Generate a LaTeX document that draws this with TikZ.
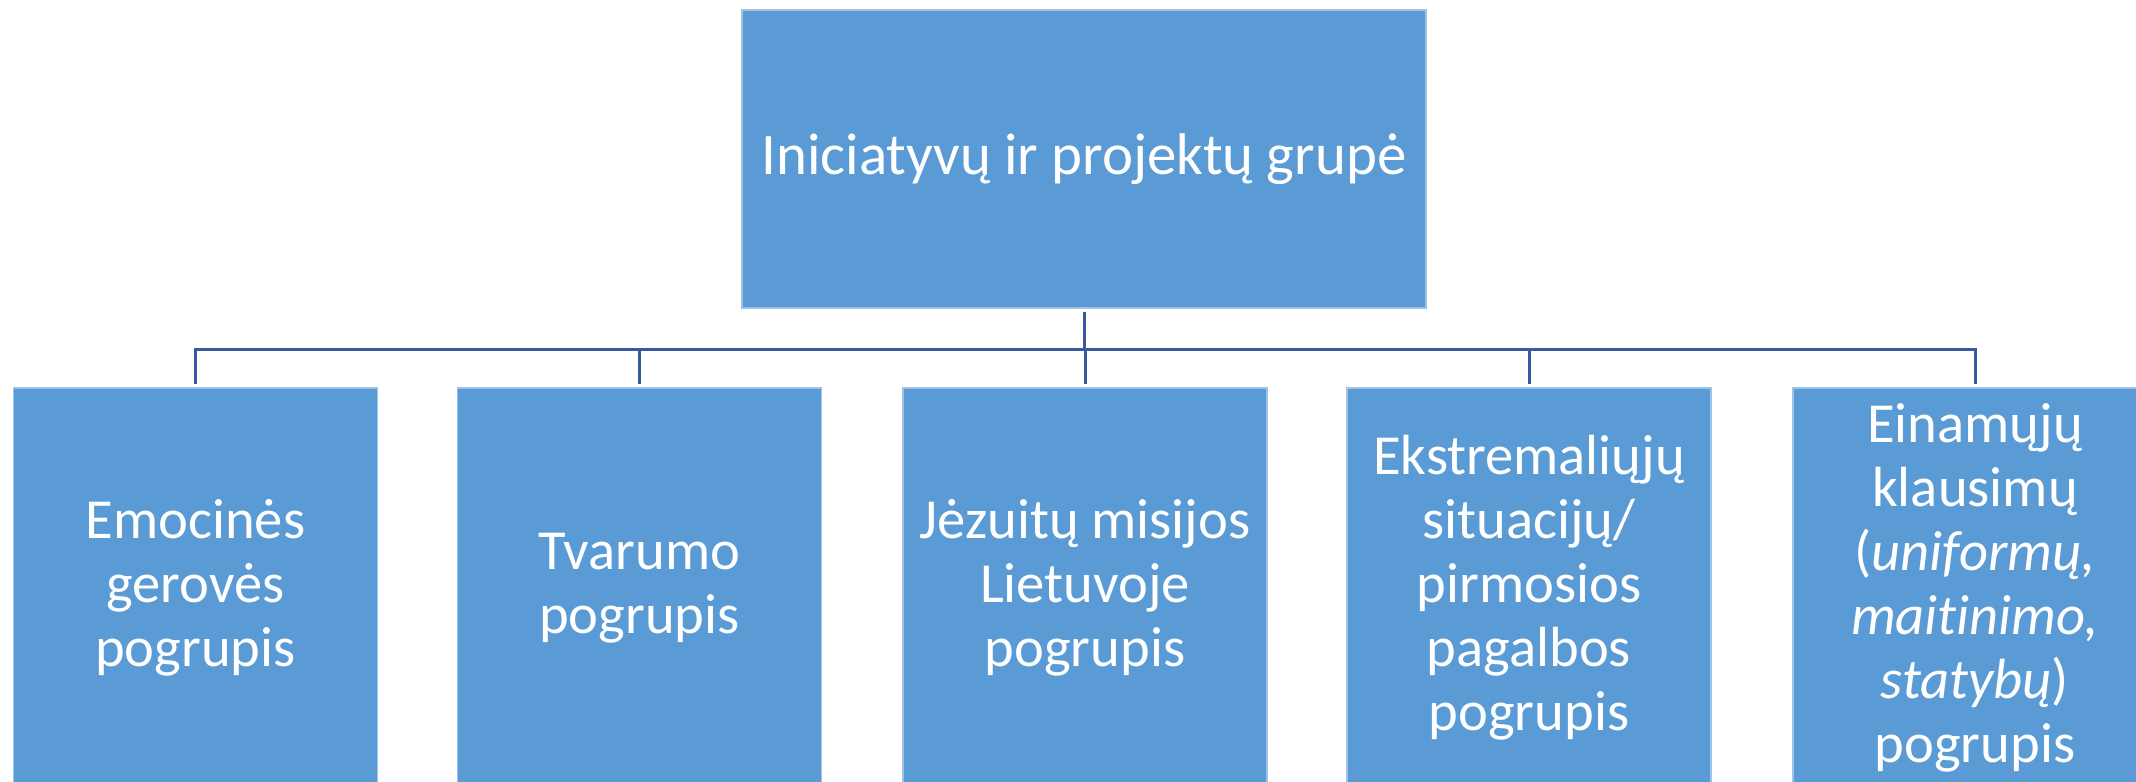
\documentclass[tikz,border=0pt]{standalone}
\usepackage{fontspec}
\setmainfont[Ligatures=NoCommon]{Carlito}
\usepackage{xcolor}
\usepackage{tikz}
\definecolor{boxblue}{RGB}{91, 155, 213}
\definecolor{linkblue}{RGB}{59, 89, 160}

\begin{document}
\begin{tikzpicture}[
  box/.style={fill=boxblue, draw=boxblue!60!white, line width=0.3pt, text=white,
    align=center, minimum width=3.64cm, minimum height=4cm, inner sep=0pt,
    font=\fontsize{16.1pt}{18.2pt}\selectfont},
  link/.style={draw=linkblue, line width=0.85pt, shorten <=0.03cm, shorten >=0.03cm}
]
\useasboundingbox (0,0) rectangle (21.36,-7.81);
\clip (0,0) rectangle (21.36,-7.81);

% top group
\node[box, minimum width=6.84cm, minimum height=2.98cm,
  font=\fontsize{16.75pt}{20pt}\selectfont] (grupe) at (10.84,-1.59) {Iniciatyvų ir projektų grupė};

% subgroups
\node[box] (emoc) at (1.955,-5.88) {Emocinės\\gerovės\\pogrupis};
\node[box] (tvar) at (6.395,-5.88) {Tvarumo\\pogrupis};
\node[box] (jezu) at (10.85,-5.88) {Jėzuitų misijos\\Lietuvoje\\pogrupis};
\node[box] (ekst) at (15.29,-5.88) {Ekstremaliųjų\\situacijų/\\pirmosios\\pagalbos\\pogrupis};
\node[box] (einam) at (19.75,-5.88) {Einamųjų\\klausimų\\(\textit{uniformų,}\\\textit{maitinimo,}\\\textit{statybų})\\pogrupis};

\foreach \sub in {emoc,tvar,jezu,ekst,einam}
  \draw[link] (grupe.south) -- ++(0,-0.41) -| (\sub.north);
\end{tikzpicture}
\end{document}
